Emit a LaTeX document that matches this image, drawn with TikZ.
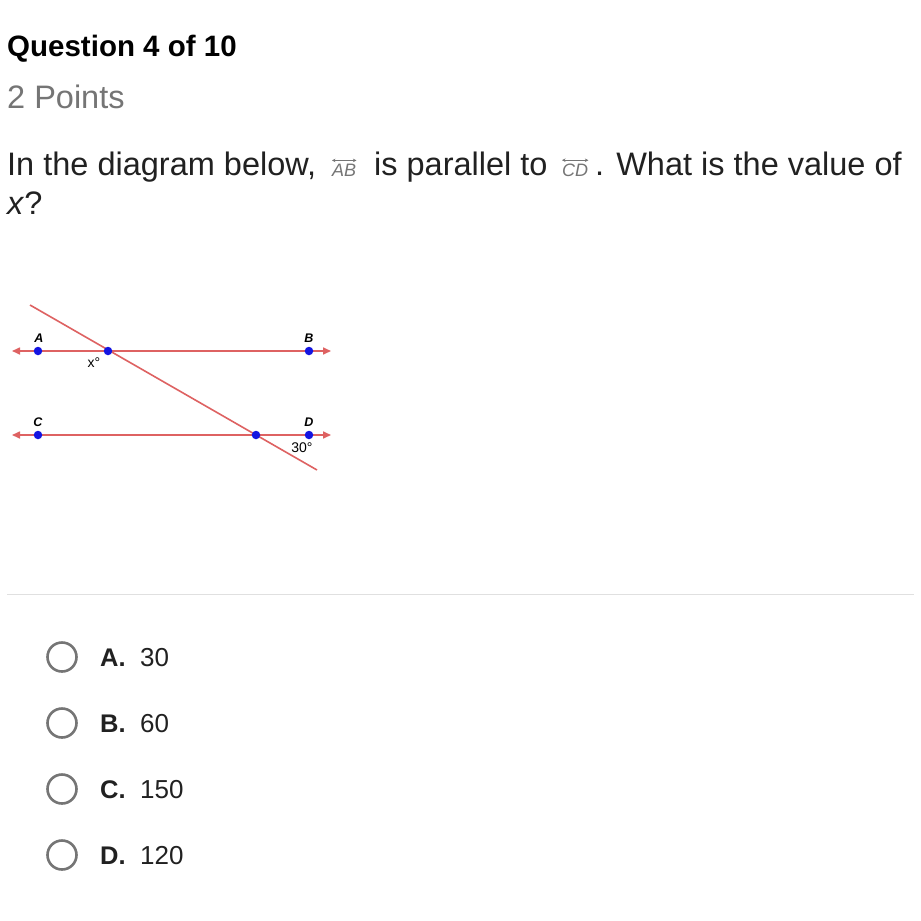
\documentclass[tikz,border=0pt]{standalone}
\usepackage{fontspec}
\setmainfont{Liberation Sans}
\usetikzlibrary{arrows.meta}
\definecolor{redline}{RGB}{222,98,98}
\definecolor{bluept}{RGB}{20,20,225}
\definecolor{graytxt}{RGB}{117,117,117}
\definecolor{darktxt}{RGB}{33,33,33}
\definecolor{sepgray}{RGB}{224,224,224}
\begin{document}
\begin{tikzpicture}[x=1pt,y=-1pt,
  txt/.style={anchor=base west,inner sep=0pt,text=darktxt,font=\fontsize{32.5}{38}\selectfont},
  lbl/.style={inner sep=0pt,font=\fontsize{12.5}{14}\selectfont\bfseries\itshape},
  ang/.style={inner sep=0pt,font=\fontsize{14}{16}\selectfont},
  pt/.style={circle,fill=bluept,inner sep=0pt,minimum size=8.5pt},
  redln/.style={draw=redline,line width=1.6pt},
  dbl/.style={redln,{Triangle[length=8pt,width=7pt]}-{Triangle[length=8pt,width=7pt]}},
  opt/.style={circle,draw=graytxt,line width=2.6pt,minimum size=29pt,inner sep=0pt},
  optl/.style={anchor=base west,inner sep=0pt,text=darktxt,font=\fontsize{25.5}{30}\selectfont\bfseries},
  optv/.style={anchor=base west,inner sep=0pt,text=darktxt,font=\fontsize{26}{30}\selectfont},
  vec/.style={anchor=base west,inner sep=0pt,text=graytxt,font=\fontsize{18}{20}\selectfont\itshape},
  vecar/.style={draw=graytxt,line width=0.8pt,{Stealth[length=3.5pt,width=3.5pt]}-{Stealth[length=3.5pt,width=3.5pt]}}
]
\useasboundingbox[fill=white] (0,0) rectangle (921,921);

% header
\node[anchor=base west,inner sep=0pt,font=\fontsize{29.5}{34}\selectfont\bfseries] (q) at (7,56) {Question 4 of 10};
\node[anchor=base west,inner sep=0pt,text=graytxt,font=\fontsize{32.5}{38}\selectfont] (pts) at (7,108) {2 Points};

% question line
\node[txt] (t1) at (7,175) {In the diagram below,};
\node[vec] (vab) at (332,176) {AB};
\draw[vecar] ([yshift=3pt]vab.north west) -- ([yshift=3pt]vab.north east);
\node[txt] (t2) at (374,175) {is parallel to};
\node[vec] (vcd) at (562,176) {CD};
\draw[vecar] ([yshift=3pt]vcd.north west) -- ([yshift=3pt]vcd.north east);
\node[txt] (t3) at (595,175) {. What is the value of};
\node[txt] (t4) at (7,214) {\itshape x\/\upshape ?};

% geometry
\coordinate (abl) at (12,351);
\coordinate (abr) at (331,351);
\coordinate (cdl) at (12,435);
\coordinate (cdr) at (331,435);
\coordinate (tr1) at (30,305);
\coordinate (tr2) at (317,470);
\draw[dbl] (abl) -- (abr);
\draw[dbl] (cdl) -- (cdr);
\draw[redln] (tr1) -- (tr2);
\node[pt] (A) at (38,351) {};
\node[pt] (P) at (108,351) {};
\node[pt] (B) at (309,351) {};
\node[pt] (C) at (38,435) {};
\node[pt] (Q) at (256,435) {};
\node[pt] (D) at (309,435) {};
\node[lbl] (la) at (39,338) {A};
\node[lbl] (lb) at (309,338) {B};
\node[lbl] (lc) at (38,422) {C};
\node[lbl] (ld) at (309,422) {D};
\node[ang] (lx) at (94,363) {x°};
\node[ang] (l30) at (302,448) {30°};

% separator
\coordinate (s1) at (7,594);
\coordinate (s2) at (914,594);
\draw[sepgray,line width=1pt] (s1) -- (s2);

% options
\node[opt] (oa) at (62,657) {};
\node[optl] (la1) at (100,666) {A.};
\node[optv] (va1) at (140,666) {30};
\node[opt] (ob) at (62,723) {};
\node[optl] (lb1) at (100,732) {B.};
\node[optv] (vb1) at (140,732) {60};
\node[opt] (oc) at (62,789) {};
\node[optl] (lc1) at (100,798) {C.};
\node[optv] (vc1) at (140,798) {150};
\node[opt] (od) at (62,855) {};
\node[optl] (ld1) at (100,864) {D.};
\node[optv] (vd1) at (140,864) {120};
\end{tikzpicture}
\end{document}
